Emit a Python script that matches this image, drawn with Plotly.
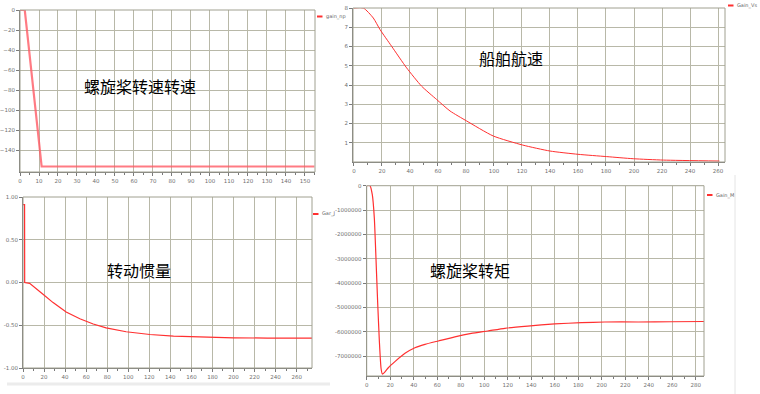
import plotly.graph_objects as go

W, H = 760, 394

# ---------------- data ----------------
# Panel 1: propeller speed (gain_np)
np_t = [0, 2.5, 11.4, 13, 20, 40, 60, 80, 100, 120, 140, 155]
np_v = [0, 0, -156.5, -156.5, -156.5, -156.5, -156.5, -156.5, -156.5, -156.5, -156.5, -156.5]
np_xticks = [0, 10, 20, 30, 40, 50, 60, 70, 80, 90, 100, 110, 120, 130, 140, 150]
np_yticks = [0, -20, -40, -60, -80, -100, -120, -140]

# Panel 2: ship speed (Gain_Vs)
vs_t = [0, 6.7, 13.8, 18.6, 26.9, 37.6, 48.3, 59, 68.6, 80.5, 99.5, 120.5, 140, 160, 180.5, 199.5, 221, 261]
vs_v = [8, 8, 7.48, 6.88, 6.01, 4.89, 3.94, 3.25, 2.65, 2.13, 1.35, 0.88, 0.57, 0.40, 0.28, 0.17, 0.10, 0.05]
vs_xticks = [0, 20, 40, 60, 80, 100, 120, 140, 160, 180, 200, 220, 240, 260]
vs_yticks = [8, 7, 6, 5, 4, 3, 2, 1]

# Panel 3: moment of inertia (Gain_J)
j_t = [0, 1.5, 1.6, 6.3, 19, 28.6, 41, 54, 66.7, 79, 98, 120.6, 143, 168, 200, 232, 275]
j_v = [0.91, 0.91, 0.0, -0.01, -0.137, -0.235, -0.345, -0.424, -0.486, -0.53, -0.576, -0.608, -0.627, -0.639, -0.647, -0.65, -0.65]
j_xticks = [0, 20, 40, 60, 80, 100, 120, 140, 160, 180, 200, 220, 240, 260]
j_yticks = [1.0, 0.5, 0.0, -0.5, -1.0]
j_ylabels = ["1.00", "0.50", "0.00", "-0.50", "-1.00"]

# Panel 4: propeller torque (Gain_M)
m_t = [0, 2.8, 4.8, 6.5, 7.9, 9.3, 10.8, 12.2, 13.3, 15, 18.4, 24, 32.6, 41, 49.6, 61, 75, 89, 103,
       117.6, 137, 160, 182.7, 202.5, 231, 259, 287]
m_v = [0, 0, -0.38e6, -1.34e6, -2.99e6, -4.77e6, -6.41e6, -7.5e6, -7.74e6, -7.68e6, -7.48e6, -7.23e6,
       -6.89e6, -6.66e6, -6.52e6, -6.38e6, -6.21e6, -6.07e6, -5.97e6, -5.86e6, -5.77e6, -5.68e6,
       -5.63e6, -5.60e6, -5.60e6, -5.59e6, -5.58e6]
m_xticks = [0, 20, 40, 60, 80, 100, 120, 140, 160, 180, 200, 220, 240, 260, 280]
m_yticks = [0, -1e6, -2e6, -3e6, -4e6, -5e6, -6e6, -7e6]
m_ylabels = ["0", "-1000000", "-2000000", "-3000000", "-4000000", "-5000000", "-6000000", "-7000000"]

titles = ["螺旋桨转速转速", "船舶航速", "转动惯量", "螺旋桨转矩"]
legend_names = ["gain_np", "Gain_Vs", "Gar_J", "Gain_M"]

# ---------------- helpers ----------------
def px(x):
    return x / W

def py(y):
    return 1 - y / H

GRID = "#b8b8a8"
AX = "#7a7a7a"
TICKF = dict(family="DejaVu Sans", size=5.5, color="#707070")
RED = "#ff3030"

fig = go.Figure()
fig.add_trace(go.Scatter(x=np_t, y=np_v, mode="lines", line=dict(color="rgba(255,90,100,0.8)", width=2.2),
                         xaxis="x", yaxis="y", showlegend=False))
fig.add_trace(go.Scatter(x=vs_t, y=vs_v, mode="lines", line=dict(color=RED, width=1, shape="spline", smoothing=0.6),
                         xaxis="x2", yaxis="y2", showlegend=False))
fig.add_trace(go.Scatter(x=j_t, y=j_v, mode="lines", line=dict(color=RED, width=1.2),
                         xaxis="x3", yaxis="y3", showlegend=False))
fig.add_trace(go.Scatter(x=m_t, y=m_v, mode="lines", line=dict(color=RED, width=1.2, shape="spline", smoothing=0.5),
                         xaxis="x4", yaxis="y4", showlegend=False))

def xax(domain, rng, tickvals, anchor, dtick_minor):
    return dict(domain=domain, range=rng, tickvals=tickvals, anchor=anchor, automargin=False,
                showgrid=True, gridcolor=GRID, gridwidth=1, zeroline=False,
                showline=True, linecolor=AX, linewidth=1, ticks="outside", ticklen=3,
                tickcolor=AX, tickfont=TICKF,
                minor=dict(dtick=dtick_minor, ticks="outside", ticklen=2, tickcolor=AX, showgrid=False))

def yax(domain, rng, tickvals, anchor, ticktext=None):
    d = dict(domain=domain, range=rng, tickvals=tickvals, anchor=anchor, automargin=False,
             showgrid=True, gridcolor=GRID, gridwidth=1, zeroline=False,
             showline=True, linecolor=AX, linewidth=1, ticks="outside", ticklen=3,
             tickcolor=AX, tickfont=TICKF)
    if ticktext is not None:
        d["ticktext"] = ticktext
    return d

# panel rectangles (pixels)
P1 = (20, 315, 10, 172)
P2 = (353, 725, 8, 162)
P3 = (23, 312, 197, 368)
P4 = (366.7, 704, 185.7, 376)

def dom(p):
    return [px(p[0]), px(p[1])], [py(p[3]), py(p[2])]

d1x, d1y = dom(P1)
d2x, d2y = dom(P2)
d3x, d3y = dom(P3)
d4x, d4y = dom(P4)

fig.update_layout(
    template="none",
    width=W, height=H, margin=dict(l=0, r=0, t=0, b=0, pad=0, autoexpand=False),
    paper_bgcolor="white", plot_bgcolor="white", showlegend=False,
    xaxis=xax(d1x, [0, 155.3], np_xticks, "y", 5),
    yaxis=yax(d1y, [-162, 0], np_yticks, "x"),
    xaxis2=xax(d2x, [-0.7, 265], vs_xticks, "y2", 10),
    yaxis2=yax(d2y, [0, 8], vs_yticks, "x2"),
    xaxis3=xax(d3x, [0, 274.6], j_xticks, "y3", 10),
    yaxis3=yax(d3y, [-1, 1], j_yticks, "x3", j_ylabels),
    xaxis4=xax(d4x, [0, 287], m_xticks, "y4", 10),
    yaxis4=yax(d4y, [-7.82e6, 0], m_yticks, "x4", m_ylabels),
)

shapes = []
annotations = []
# frame borders
for p in (P1, P2, P3, P4):
    shapes.append(dict(type="rect", xref="paper", yref="paper",
                       x0=px(p[0]), x1=px(p[1]), y0=py(p[3]), y1=py(p[2]),
                       line=dict(color="#a0a090", width=1)))

# chart titles inside plots
title_pos = [(140, 86), (511, 58), (139, 270), (470, 270)]
for t, (x, y) in zip(titles, title_pos):
    annotations.append(dict(text=t, x=px(x), y=py(y), xref="paper", yref="paper", showarrow=False,
                            xanchor="center", yanchor="middle",
                            font=dict(family="Noto Sans CJK SC", size=16, color="black")))

# small legends
leg_pos = [(317, 16.5), (728, 5.5), (313, 214), (707, 195)]
for name, (x, y) in zip(legend_names, leg_pos):
    shapes.append(dict(type="line", xref="paper", yref="paper", x0=px(x), x1=px(x + 5.5),
                       y0=py(y), y1=py(y), line=dict(color=RED, width=2)))
    annotations.append(dict(text=name, x=px(x + 7), y=py(y), xref="paper", yref="paper", showarrow=False,
                            xanchor="left", yanchor="middle",
                            font=dict(family="DejaVu Sans", size=5, color="#666666")))

# decorative separators
shapes.append(dict(type="line", xref="paper", yref="paper", x0=px(735), x1=px(735), y0=0, y1=py(175),
                   line=dict(color="#e4e4e4", width=1)))
shapes.append(dict(type="line", xref="paper", yref="paper", x0=px(7), x1=px(330), y0=py(384), y1=py(384),
                   line=dict(color="#ececec", width=3)))

fig.update_layout(shapes=shapes, annotations=annotations)
fig.write_html("out.html", config={"displayModeBar": False},
               post_script="document.body.style.margin='0';document.body.style.padding='0';"
                           "document.body.style.overflow='hidden';")
